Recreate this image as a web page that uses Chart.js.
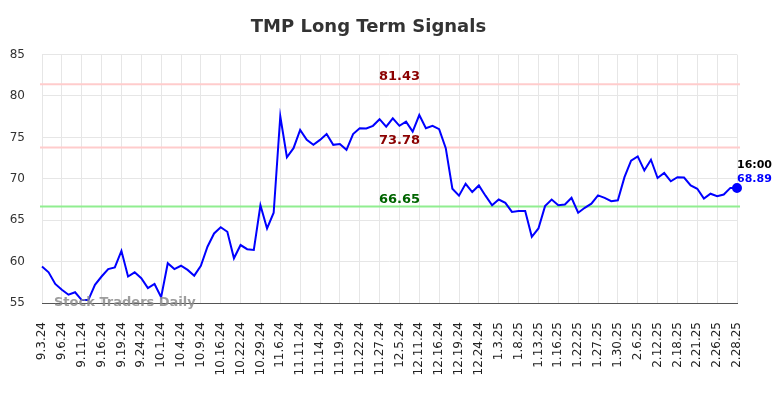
<!DOCTYPE html>
<html>
<head>
<meta charset="utf-8">
<script src="https://cdn.jsdelivr.net/npm/chart.js@4.4.1/dist/chart.umd.min.js"></script>
<style>
  html, body { margin: 0; padding: 0; background: #ffffff; }
  #wrap { width: 784px; height: 398px; }
</style>
</head>
<body>
<div id="wrap"><canvas id="c" width="784" height="398"></canvas></div>
<script>
const dates = [
  "9.3.24","9.4.24","9.5.24","9.6.24","9.9.24","9.10.24","9.11.24","9.12.24","9.13.24","9.16.24",
  "9.17.24","9.18.24","9.19.24","9.20.24","9.23.24","9.24.24","9.25.24","9.27.24","10.1.24","10.2.24",
  "10.3.24","10.4.24","10.7.24","10.8.24","10.9.24","10.11.24","10.14.24","10.16.24","10.17.24","10.21.24",
  "10.22.24","10.24.24","10.28.24","10.29.24","10.31.24","11.4.24","11.6.24","11.7.24","11.8.24","11.11.24",
  "11.12.24","11.13.24","11.14.24","11.15.24","11.18.24","11.19.24","11.20.24","11.21.24","11.22.24","11.25.24",
  "11.26.24","11.27.24","12.2.24","12.4.24","12.5.24","12.6.24","12.9.24","12.11.24","12.12.24","12.13.24",
  "12.16.24","12.17.24","12.18.24","12.19.24","12.20.24","12.23.24","12.24.24","12.27.24","12.31.24","1.3.25",
  "1.6.25","1.7.25","1.8.25","1.9.25","1.10.25","1.13.25","1.14.25","1.15.25","1.16.25","1.17.25",
  "1.21.25","1.22.25","1.23.25","1.24.25","1.27.25","1.28.25","1.29.25","1.30.25","2.3.25","2.4.25",
  "2.6.25","2.7.25","2.11.25","2.12.25","2.13.25","2.14.25","2.18.25","2.19.25","2.20.25","2.21.25",
  "2.24.25","2.25.25","2.26.25","2.27.25","2.27.25","2.28.25"
];
const signalValues = [
  59.4, 58.7, 57.3, 56.6, 56.0, 56.3, 55.35, 55.35, 57.2, 58.2,
  59.1, 59.3, 61.3, 58.2, 58.7, 58.0, 56.8, 57.3, 55.7, 59.8,
  59.1, 59.5, 59.0, 58.3, 59.5, 61.8, 63.4, 64.15, 63.6, 60.4,
  62.0, 61.5, 61.4, 66.8, 64.0, 65.9, 77.55, 72.6, 73.7, 75.9,
  74.7, 74.1, 74.7, 75.4, 74.1, 74.2, 73.5, 75.4, 76.1, 76.07,
  76.4, 77.2, 76.3, 77.3, 76.4, 76.9, 75.7, 77.7, 76.1, 76.4,
  76.0, 73.7, 68.8, 67.96, 69.4, 68.4, 69.2, 67.96, 66.8, 67.5,
  67.1, 66.0, 66.1, 66.1, 63.0, 64.0, 66.7, 67.5, 66.8, 66.9,
  67.7, 65.9, 66.5, 67.0, 68.0, 67.7, 67.3, 67.4, 70.2, 72.2,
  72.7, 71.0, 72.3, 70.1, 70.7, 69.7, 70.2, 70.15, 69.2, 68.8,
  67.6, 68.2, 67.9, 68.1, 68.9, 68.89
];
const levelValues = [81.43, 73.78, 66.65];
const levelLineColors = ["#ffcccc", "#ffcccc", "#90ee90"];
const levelTextColors = ["#8b0000", "#8b0000", "#006400"];
const yTickValues = [55, 60, 65, 70, 75, 80, 85];
const lastTimeLabel = "16:00";
const watermarkText = "Stock Traders Daily";
const labelEvery = 3;

const lastIdx = signalValues.length - 1;

const overlayPlugin = {
  id: 'overlay',
  beforeDatasetsDraw(chart) {
    const {ctx, chartArea, scales} = chart;
    const y = scales.y;
    ctx.save();
    levelValues.forEach((v, i) => {
      const py = y.getPixelForValue(v);
      ctx.strokeStyle = levelLineColors[i];
      ctx.lineWidth = 2;
      ctx.beginPath();
      ctx.moveTo(chartArea.left - 2, py);
      ctx.lineTo(chartArea.right + 3, py);
      ctx.stroke();
      ctx.fillStyle = levelTextColors[i];
      ctx.font = 'bold 13px "DejaVu Sans"';
      ctx.textAlign = 'center';
      ctx.textBaseline = 'alphabetic';
      ctx.fillText(v.toFixed(2), (chartArea.left + chartArea.right) / 2 + 10, py - 4);
    });
    ctx.restore();
  },
  afterDatasetsDraw(chart) {
    const {ctx, chartArea, scales} = chart;
    const x = scales.x, y = scales.y;
    ctx.save();
    const px = x.getPixelForValue(lastIdx);
    const py = y.getPixelForValue(signalValues[lastIdx]);
    ctx.font = 'bold 11px "DejaVu Sans"';
    ctx.textAlign = 'left';
    ctx.textBaseline = 'alphabetic';
    ctx.fillStyle = '#000000';
    ctx.fillText(lastTimeLabel, px, py - 20);
    ctx.fillStyle = '#0000ff';
    ctx.fillText(signalValues[lastIdx].toFixed(2), px, py - 6);
    ctx.font = 'bold 13px "DejaVu Sans"';
    ctx.fillStyle = 'rgba(140,140,140,0.85)';
    ctx.fillText(watermarkText, chartArea.left + 12, chartArea.bottom + 3);
    ctx.restore();
  }
};

new Chart(document.getElementById('c'), {
  type: 'line',
  data: {
    labels: dates,
    datasets: [{
      data: signalValues,
      borderColor: '#0000ff',
      backgroundColor: '#0000ff',
      borderWidth: 2,
      tension: 0,
      pointRadius: ctx => ctx.dataIndex === lastIdx ? 4 : 0,
      pointHoverRadius: 0,
      fill: false
    }]
  },
  options: {
    responsive: false,
    animation: false,
    events: [],
    layout: { padding: { left: 0, right: 47, top: 0, bottom: 0 } },
    plugins: {
      legend: { display: false },
      tooltip: { enabled: false },
      title: {
        display: true,
        text: 'TMP Long Term Signals',
        color: '#333333',
        font: { family: 'DejaVu Sans', size: 18, weight: 'bold' },
        padding: { top: 17, bottom: 16 }
      }
    },
    scales: {
      x: {
        type: 'category',
        offset: false,
        grid: {
          color: ctx => (ctx.index % labelEvery === 0) ? '#e6e6e6' : 'rgba(0,0,0,0)',
          drawTicks: false,
          lineWidth: 1
        },
        border: { display: true, color: '#555555', width: 1 },
        ticks: {
          autoSkip: false,
          maxRotation: 90,
          minRotation: 90,
          padding: 19,
          color: '#222222',
          font: { family: 'DejaVu Sans', size: 12 },
          callback: function(value, index) {
            return index % labelEvery === 0 ? this.getLabelForValue(value) : '';
          }
        },
        afterFit: s => { s.height = 95; }
      },
      y: {
        min: 55,
        max: 85,
        afterBuildTicks: s => { s.ticks = yTickValues.map(v => ({ value: v })); },
        grid: { color: '#e6e6e6', drawTicks: false, lineWidth: 1 },
        border: { display: false },
        ticks: {
          padding: 17,
          color: '#333333',
          font: { family: 'DejaVu Sans', size: 12 }
        },
        afterFit: s => { s.width = 42; }
      }
    }
  },
  plugins: [overlayPlugin]
});
</script>
</body>
</html>
